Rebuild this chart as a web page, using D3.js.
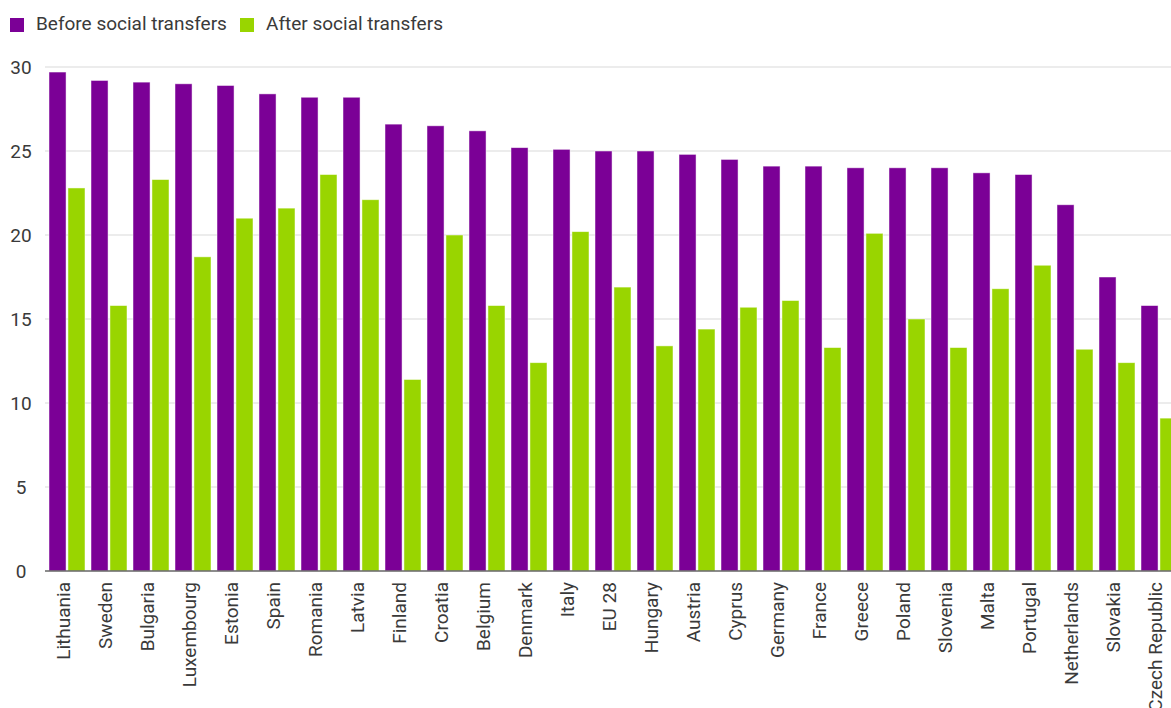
<!DOCTYPE html>
<html>
<head>
<meta charset="utf-8">
<script src="https://cdnjs.cloudflare.com/ajax/libs/d3/7.8.5/d3.min.js"></script>
<style>
  body { margin: 0; background: #fff; }
  #chart { width: 1171px; height: 708px; overflow: hidden; }
  svg { font-family: Roboto, "Noto Sans", sans-serif; }
</style>
</head>
<body>
<div id="chart"></div>
<script>
var countries = ["Lithuania", "Sweden", "Bulgaria", "Luxembourg", "Estonia", "Spain", "Romania", "Latvia",
  "Finland", "Croatia", "Belgium", "Denmark", "Italy", "EU 28", "Hungary", "Austria", "Cyprus", "Germany",
  "France", "Greece", "Poland", "Slovenia", "Malta", "Portugal", "Netherlands", "Slovakia", "Czech Republic"];
var beforeTransfers = [29.7, 29.2, 29.1, 29.0, 28.9, 28.4, 28.2, 28.2, 26.6, 26.5, 26.2, 25.2, 25.1, 25.0,
  25.0, 24.8, 24.5, 24.1, 24.1, 24.0, 24.0, 24.0, 23.7, 23.6, 21.8, 17.5, 15.8];
var afterTransfers = [22.8, 15.8, 23.3, 18.7, 21.0, 21.6, 23.6, 22.1, 11.4, 20.0, 15.8, 12.4, 20.2, 16.9,
  13.4, 14.4, 15.7, 16.1, 13.3, 20.1, 15.0, 13.3, 16.8, 18.2, 13.2, 12.4, 9.1];
var seriesNames = ["Before social transfers", "After social transfers"];
var yTicks = [0, 5, 10, 15, 20, 25, 30];

var colors = { "Before social transfers": "#7b0096", "After social transfers": "#99d500" };

function drawChart(id) {
  var width = 1171, height = 708;
  var left = 46, top = 67, bottom = 571;
  var textColor = "#3a3a3a";

  var svg = d3.select("#" + id).append("svg")
    .attr("width", width)
    .attr("height", height);

  var rows = countries.map(function(c, i) {
    return { name: c, values: [beforeTransfers[i], afterTransfers[i]] };
  });

  // x scales: the plot runs past the right edge, as in the original
  var x0 = d3.scaleBand()
    .domain(countries)
    .range([left, left + countries.length * 42]);
  var x1 = d3.scaleBand()
    .domain(seriesNames)
    .range([3, 39])
    .paddingInner(0.1);

  var y = d3.scaleLinear()
    .domain([0, 30])
    .range([bottom, top]);

  // grid lines
  svg.append("g")
    .selectAll("line")
    .data(yTicks.filter(function(t) { return t > 0; }))
    .join("line")
    .attr("x1", left - 1)
    .attr("x2", width)
    .attr("y1", function(d) { return y(d); })
    .attr("y2", function(d) { return y(d); })
    .attr("stroke", "#e6e6e6")
    .attr("stroke-width", 1.5);

  // y axis labels
  var yAxis = svg.append("g")
    .attr("transform", "translate(33,0)")
    .call(d3.axisLeft(y).tickValues(yTicks).tickSize(0).tickPadding(0));
  yAxis.select(".domain").remove();
  yAxis.selectAll("text")
    .attr("x", -12)
    .attr("text-anchor", "middle")
    .attr("font-size", "19px")
    .attr("font-family", "Roboto, sans-serif")
    .attr("fill", textColor);

  // bars
  svg.append("g")
    .selectAll("g")
    .data(rows)
    .join("g")
    .attr("transform", function(d) { return "translate(" + x0(d.name) + ",0)"; })
    .selectAll("rect")
    .data(function(d) { return d.values.map(function(v, j) { return { key: seriesNames[j], value: v }; }); })
    .join("rect")
    .attr("x", function(d) { return x1(d.key); })
    .attr("width", x1.bandwidth())
    .attr("y", function(d) { return y(d.value); })
    .attr("height", function(d) { return y(0) - y(d.value); })
    .attr("fill", function(d) { return colors[d.key]; })
    .attr("stroke", "#fff")
    .attr("stroke-opacity", 0.6)
    .attr("stroke-width", 0.8);

  // baseline
  svg.append("line")
    .attr("x1", left - 1)
    .attr("x2", width)
    .attr("y1", y(0))
    .attr("y2", y(0))
    .attr("stroke", "#666")
    .attr("stroke-width", 1.5);

  // x axis labels, rotated
  var xAxis = svg.append("g")
    .attr("transform", "translate(-4," + (bottom + 11) + ")")
    .call(d3.axisBottom(x0).tickSize(0).tickPadding(0));
  xAxis.select(".domain").remove();
  xAxis.selectAll("text")
    .attr("transform", "rotate(-90)")
    .attr("x", 0)
    .attr("y", 0)
    .attr("dy", "0.35em")
    .attr("text-anchor", "end")
    .attr("font-size", "19px")
    .attr("font-family", "Roboto, sans-serif")
    .attr("fill", textColor);

  // legend
  var legendX = [10, 240];
  var legend = svg.append("g")
    .selectAll("g")
    .data(seriesNames)
    .join("g")
    .attr("transform", function(d, i) { return "translate(" + legendX[i] + ",17)"; });
  legend.append("rect")
    .attr("y", 1)
    .attr("width", 14)
    .attr("height", 14)
    .attr("fill", function(d) { return colors[d]; });
  legend.append("text")
    .attr("x", 26)
    .attr("y", 13)
    .attr("font-size", "19px")
    .attr("fill", textColor)
    .text(function(d) { return d; });
}

drawChart("chart");
</script>
</body>
</html>
